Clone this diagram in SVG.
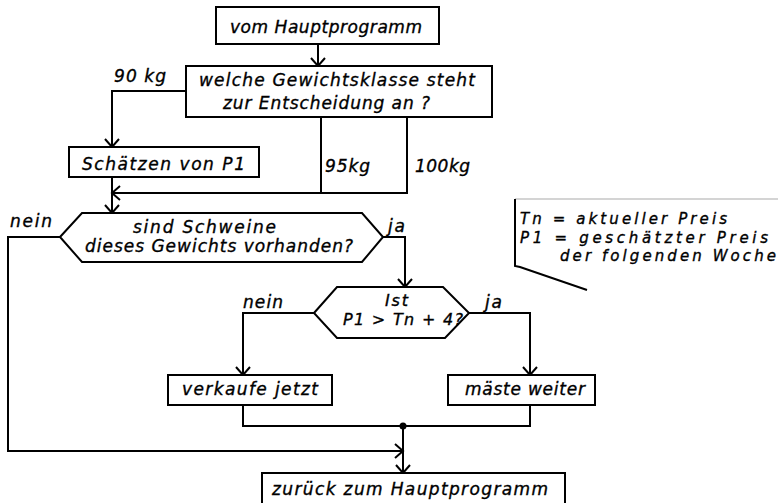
<svg xmlns="http://www.w3.org/2000/svg" width="781" height="503" viewBox="0 0 781 503">
<style>
.b{fill:#fff;stroke:#000;stroke-width:2}
.c{fill:none;stroke:#000;stroke-width:2}
text{font-family:"DejaVu Sans","Liberation Sans",sans-serif;font-style:italic;font-size:17px;fill:#000;stroke:#000;stroke-width:0.35}
.n{font-size:15px}
.s{font-size:16px}
</style>
<defs>
<marker id="a" markerUnits="userSpaceOnUse" markerWidth="20" markerHeight="20" refX="10" refY="10" orient="auto" overflow="visible">
<path d="M2,3 L10,10 L2,17" fill="none" stroke="#000" stroke-width="2"/>
</marker>
</defs>
<rect width="781" height="503" fill="#fff"/>
<g id="connectors">
<path class="c" d="M318,44 V66" marker-end="url(#a)"/>
<path class="c" d="M186,91 H112 V147" marker-end="url(#a)"/>
<path class="c" d="M321,117 V193 H112" marker-end="url(#a)"/>
<path class="c" d="M407,117 V193 H321"/>
<path class="c" d="M112,177 V213" marker-end="url(#a)"/>
<path class="c" d="M60,237 H8 V451 H403" marker-end="url(#a)"/>
<path class="c" d="M383,237 H405 V287" marker-end="url(#a)"/>
<path class="c" d="M314,313 H243 V375" marker-end="url(#a)"/>
<path class="c" d="M469,313 H530 V375" marker-end="url(#a)"/>
<path class="c" d="M243,405 V426 H530 V405"/>
<path class="c" d="M403,426 V473" marker-end="url(#a)"/>
<circle cx="403" cy="426" r="3.5" fill="#000"/>
<text x="114" y="82" textLength="52" lengthAdjust="spacing">90 kg</text>
<text x="325" y="172" textLength="45" lengthAdjust="spacing">95kg</text>
<text x="415" y="172" textLength="55" lengthAdjust="spacing">100kg</text>
<text x="10" y="227" textLength="42" lengthAdjust="spacing">nein</text>
<text x="388" y="232" textLength="17" lengthAdjust="spacing">ja</text>
<text x="243" y="308" textLength="40" lengthAdjust="spacing">nein</text>
<text x="485" y="308" textLength="17" lengthAdjust="spacing">ja</text>
</g>
<g id="start">
<rect class="b" x="216" y="7" width="223" height="37"/>
<text x="230" y="33" textLength="192" lengthAdjust="spacing">vom Hauptprogramm</text>
</g>
<g id="weight-class">
<rect class="b" x="186" y="66" width="306" height="51"/>
<text x="199" y="86" textLength="276" lengthAdjust="spacing">welche Gewichtsklasse steht</text>
<text x="223" y="109" textLength="207" lengthAdjust="spacing">zur Entscheidung an ?</text>
</g>
<g id="estimate">
<rect class="b" x="69" y="147" width="190" height="30"/>
<text x="82" y="170" textLength="163" lengthAdjust="spacing">Schätzen von P1</text>
</g>
<g id="available">
<polygon class="b" points="60,237 82,213 362,213 383,237 362,262 82,262"/>
<text x="133" y="233" textLength="143" lengthAdjust="spacing">sind Schweine</text>
<text x="85" y="252" textLength="268" lengthAdjust="spacing">dieses Gewichts vorhanden?</text>
</g>
<g id="compare">
<polygon class="b" points="314,313 337,287 443,287 469,313 445,338 337,338"/>
<text class="s" x="385" y="306" textLength="23" lengthAdjust="spacing">Ist</text>
<text class="s" x="343" y="325" textLength="120" lengthAdjust="spacing">P1 &gt; Tn + 4?</text>
</g>
<g id="sell">
<rect class="b" x="168" y="375" width="164" height="30"/>
<text x="182" y="395" textLength="136" lengthAdjust="spacing">verkaufe jetzt</text>
</g>
<g id="fatten">
<rect class="b" x="448" y="375" width="147" height="30"/>
<text x="465" y="395" textLength="120" lengthAdjust="spacing">mäste weiter</text>
</g>
<g id="end">
<rect class="b" x="262" y="473" width="303" height="40"/>
<text x="272" y="495" textLength="276" lengthAdjust="spacing">zurück zum Hauptprogramm</text>
</g>
<g id="note">
<path d="M515,199 H778" fill="none" stroke="#aaa" stroke-width="1.2"/>
<path class="c" d="M515,199 V266 L520,267 L587,290"/>
<text class="n" x="520" y="224" textLength="207" lengthAdjust="spacing">Tn = aktueller Preis</text>
<text class="n" x="520" y="243" textLength="248" lengthAdjust="spacing">P1 = geschätzter Preis</text>
<text class="n" x="560" y="261" textLength="216" lengthAdjust="spacing">der folgenden Woche</text>
</g>
</svg>
